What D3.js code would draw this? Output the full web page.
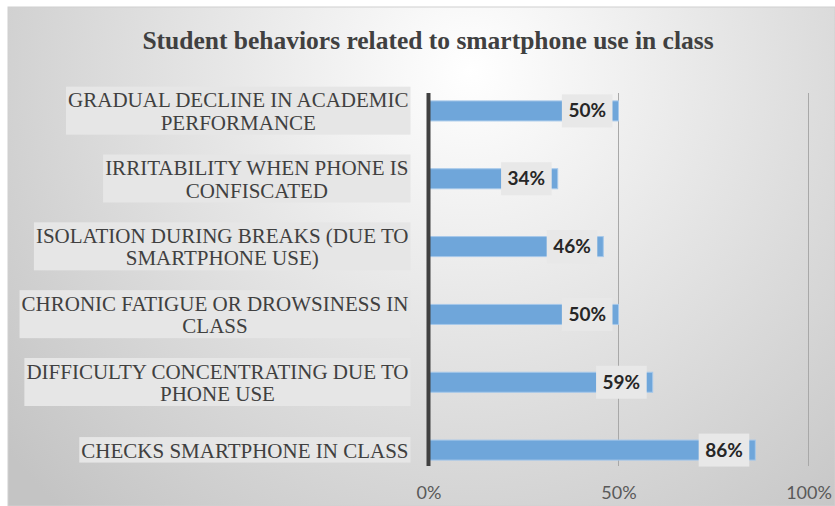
<!DOCTYPE html>
<html>
<head>
<meta charset="utf-8">
<script src="https://cdn.jsdelivr.net/npm/d3@7"></script>
<style>
  body { margin: 0; background: #ffffff; }
  svg { display: block; }
</style>
</head>
<body>
<div id="chart"></div>
<script>
var categories = [
  "GRADUAL DECLINE IN ACADEMIC\nPERFORMANCE",
  "IRRITABILITY WHEN PHONE IS\nCONFISCATED",
  "ISOLATION DURING BREAKS (DUE TO\nSMARTPHONE USE)",
  "CHRONIC FATIGUE OR DROWSINESS IN\nCLASS",
  "DIFFICULTY CONCENTRATING DUE TO\nPHONE USE",
  "CHECKS SMARTPHONE IN CLASS"
];
var values = [0.50, 0.34, 0.46, 0.50, 0.59, 0.86];
var ticks = [0, 0.5, 1];
var title = "Student behaviors related to smartphone use in class";

var width = 835,
    height = 506;

var svg = d3.select("#chart").append("svg")
  .attr("width", width)
  .attr("height", height);

// background gradient like the office chart style
var grad = svg.append("defs").append("radialGradient")
  .attr("id", "bg")
  .attr("gradientUnits", "userSpaceOnUse")
  .attr("cx", 470).attr("cy", 70).attr("r", 600);
grad.append("stop").attr("offset", 0).attr("stop-color", "#ffffff");
grad.append("stop").attr("offset", 1).attr("stop-color", "#c4c4c4");

svg.append("rect")
  .attr("x", 8).attr("y", 7)
  .attr("width", width - 8).attr("height", height - 7)
  .attr("fill", "url(#bg)")
  .attr("stroke", "#d0d0d0")
  .attr("stroke-width", 1);

svg.append("text")
  .attr("x", 428)
  .attr("y", 48.5)
  .attr("text-anchor", "middle")
  .style("font-family", "'Liberation Serif', 'Times New Roman', serif")
  .style("font-weight", "bold")
  .style("font-size", "25.5px")
  .style("fill", "#404040")
  .text(title);

var x = d3.scaleLinear()
  .domain([0, 1])
  .range([428.5, 808.5]);

var y = d3.scaleBand()
  .domain(categories)
  .range([77, 484])
  .paddingInner(0.705)
  .paddingOuter(0.3525);

var plotTop = 93,
    plotBottom = 466;

// gridlines
svg.append("g").selectAll("line")
  .data(ticks.filter(function(d) { return d > 0; }))
  .enter().append("line")
  .attr("x1", function(d) { return x(d); })
  .attr("x2", function(d) { return x(d); })
  .attr("y1", plotTop)
  .attr("y2", plotBottom)
  .style("stroke", "#a8a8a8")
  .style("stroke-width", 1);

// bars
svg.append("g").selectAll("rect")
  .data(values)
  .enter().append("rect")
  .attr("x", x(0))
  .attr("y", function(d, i) { return y(categories[i]); })
  .attr("width", function(d) { return x(d) - x(0); })
  .attr("height", y.bandwidth())
  .style("fill", "#6fa6da")
  .style("stroke", "#a6c8ea")
  .style("stroke-width", 1);

// vertical axis line
svg.append("line")
  .attr("x1", x(0)).attr("x2", x(0))
  .attr("y1", plotTop).attr("y2", plotBottom)
  .style("stroke", "#404040")
  .style("stroke-width", 4);

// x axis tick labels
var xAxis = d3.axisBottom(x)
  .tickValues(ticks)
  .tickFormat(d3.format(".0%"))
  .tickSize(0)
  .tickPadding(0);

var gx = svg.append("g")
  .attr("transform", "translate(0,486)")
  .call(xAxis);
gx.select(".domain").remove();
gx.selectAll("text")
  .attr("dy", "0.71em")
  .style("font-family", "Lato, 'Open Sans', sans-serif")
  .style("font-size", "18px")
  .style("fill", "#595959");

// data labels
var dl = svg.append("g").selectAll("g")
  .data(values)
  .enter().append("g");

dl.each(function(d, i) {
  var g = d3.select(this);
  var cy = y(categories[i]) + y.bandwidth() / 2;
  var t = g.append("text")
    .attr("text-anchor", "middle")
    .attr("y", cy + 6.5)
    .style("font-family", "Lato, 'Open Sans', sans-serif")
    .style("font-weight", "bold")
    .style("font-size", "19px")
    .style("fill", "#262626")
    .text(d3.format(".0%")(d));
  var w = t.node().getComputedTextLength() + 13;
  var right = x(d) - 6;
  g.insert("rect", "text")
    .attr("x", right - w)
    .attr("y", cy - 16.5)
    .attr("width", w)
    .attr("height", 33)
    .style("fill", "#e8e8e8");
  t.attr("x", right - w / 2);
});

// category labels
var lineH = 22.5,
    labelRight = 410.5;

var cl = svg.append("g").selectAll("g")
  .data(categories)
  .enter().append("g");

cl.each(function(d) {
  var g = d3.select(this);
  var lines = d.split("\n");
  var cy = y(d) + y.bandwidth() / 2;
  var base = cy - (lines.length - 1) * lineH / 2 + 7.5;
  var t = g.append("text")
    .style("font-family", "'Liberation Serif', 'Times New Roman', serif")
    .style("font-size", "21px")
    .style("fill", "#404040")
    .attr("text-anchor", "middle");
  var spans = t.selectAll("tspan")
    .data(lines)
    .enter().append("tspan")
    .attr("y", function(l, j) { return base + j * lineH; })
    .text(function(l) { return l; });
  var maxW = 0;
  spans.each(function() {
    maxW = Math.max(maxW, this.getComputedTextLength());
  });
  var boxW = maxW + 4;
  spans.attr("x", labelRight - boxW / 2);
  g.insert("rect", "text")
    .attr("x", labelRight - boxW)
    .attr("y", base - 20.5)
    .attr("width", boxW)
    .attr("height", (lines.length - 1) * lineH + 25.5)
    .style("fill", "#e6e6e6");
});
</script>
</body>
</html>
